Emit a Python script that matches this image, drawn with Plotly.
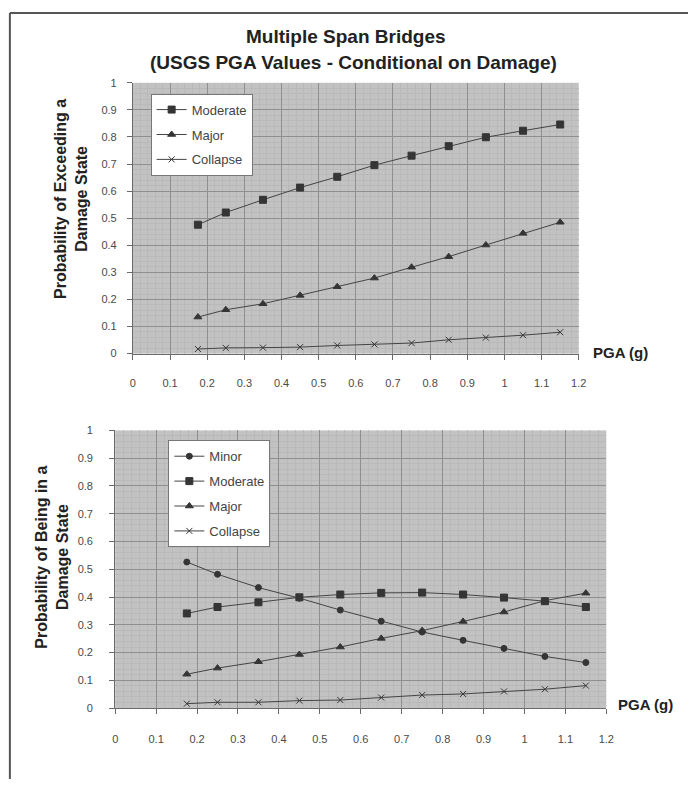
import plotly.graph_objects as go

W, H = 696, 785

pga = [0.175, 0.25, 0.35, 0.45, 0.55, 0.65, 0.75, 0.85, 0.95, 1.05, 1.15]

# Top chart: probability of exceeding a damage state
exc_moderate = [0.476, 0.521, 0.568, 0.613, 0.653, 0.696, 0.731, 0.766, 0.799, 0.823, 0.846]
exc_major = [0.135, 0.162, 0.184, 0.215, 0.247, 0.279, 0.319, 0.358, 0.401, 0.444, 0.485]
exc_collapse = [0.017, 0.021, 0.022, 0.024, 0.030, 0.034, 0.039, 0.051, 0.059, 0.068, 0.079]

# Bottom chart: probability of being in a damage state
in_minor = [0.526, 0.482, 0.434, 0.396, 0.353, 0.313, 0.274, 0.244, 0.215, 0.186, 0.164]
in_moderate = [0.341, 0.364, 0.381, 0.399, 0.409, 0.415, 0.416, 0.409, 0.398, 0.385, 0.364]
in_major = [0.122, 0.144, 0.167, 0.193, 0.220, 0.251, 0.279, 0.312, 0.346, 0.387, 0.414]
in_collapse = [0.016, 0.021, 0.021, 0.027, 0.029, 0.038, 0.047, 0.051, 0.060, 0.068, 0.081]

x_ticks = [0, 0.1, 0.2, 0.3, 0.4, 0.5, 0.6, 0.7, 0.8, 0.9, 1, 1.1, 1.2]
x_ticklabels = ["0", "0.1", "0.2", "0.3", "0.4", "0.5", "0.6", "0.7", "0.8", "0.9", "1", "1.1", "1.2"]
y_ticks = [0, 0.1, 0.2, 0.3, 0.4, 0.5, 0.6, 0.7, 0.8, 0.9, 1]
y_ticklabels = ["0", "0.1", "0.2", "0.3", "0.4", "0.5", "0.6", "0.7", "0.8", "0.9", "1"]

LINE = "#444444"
MARK = "#353535"
FONT = "Liberation Sans, Arial, sans-serif"


def px_x(p):
    return p / W


def px_y(p):
    return 1 - p / H


fig = go.Figure()

top_series = [
    ("Moderate", exc_moderate, "square", 7),
    ("Major", exc_major, "triangle-up", 7),
    ("Collapse", exc_collapse, "x-thin-open", 6),
]
for name, vals, sym, sz in top_series:
    fig.add_trace(go.Scatter(
        x=pga, y=vals, name=name, mode="lines+markers",
        line=dict(color=LINE, width=1),
        marker=dict(symbol=sym, size=sz, color=MARK, line=dict(color=MARK, width=1)),
        xaxis="x", yaxis="y", legend="legend", legendgroup="t" + name,
    ))

bot_series = [
    ("Minor", in_minor, "circle", 6),
    ("Moderate", in_moderate, "square", 7),
    ("Major", in_major, "triangle-up", 7),
    ("Collapse", in_collapse, "x-thin-open", 6),
]
for name, vals, sym, sz in bot_series:
    fig.add_trace(go.Scatter(
        x=pga, y=vals, name=name, mode="lines+markers",
        line=dict(color=LINE, width=1),
        marker=dict(symbol=sym, size=sz, color=MARK, line=dict(color=MARK, width=1)),
        xaxis="x2", yaxis="y2", legend="legend2", legendgroup="b" + name,
    ))

axis_common = dict(
    showgrid=True, gridcolor="#8f8f8f", gridwidth=1,
    zeroline=False, showline=True, linecolor="#6a6a6a", linewidth=1,
    ticks="outside", ticklen=5, tickcolor="#6a6a6a",
    tickfont=dict(family=FONT, size=11, color="#4a4a4a"),
    minor=dict(dtick=0.02, showgrid=True, gridcolor="#b9b9b9", gridwidth=1),
)

xa = dict(axis_common, range=[0, 1.2], tickvals=x_ticks, ticktext=x_ticklabels,
          ticklabelstandoff=14)
ya = dict(axis_common, range=[0, 1], tickvals=y_ticks, ticktext=y_ticklabels,
          ticklabelstandoff=8)

legend_common = dict(
    bgcolor="white", bordercolor="#777777", borderwidth=1,
    font=dict(family=FONT, size=13, color="#444444"),
    xanchor="left", yanchor="top", tracegroupgap=5, itemwidth=30,
)

fig.update_layout(
    width=W, height=H,
    margin=dict(l=0, r=0, t=0, b=0),
    paper_bgcolor="white",
    plot_bgcolor="#c2c2c2",
    showlegend=True,
    xaxis=dict(xa, domain=[px_x(132), px_x(585)], anchor="y"),
    yaxis=dict(ya, domain=[px_y(353), px_y(78)], anchor="x"),
    xaxis2=dict(xa, domain=[px_x(114), px_x(613)], anchor="y2", ticklabelstandoff=16),
    yaxis2=dict(ya, domain=[px_y(713), px_y(431)], anchor="x2", ticklabelstandoff=14),
    legend=dict(legend_common, x=px_x(150), y=px_y(89)),
    legend2=dict(legend_common, x=px_x(168), y=px_y(441)),
)

annotations = [
    dict(text="<b>Multiple Span Bridges</b>", x=px_x(348), y=px_y(31),
         font=dict(family=FONT, size=19, color="#222222")),
    dict(text="<b>(USGS PGA Values - Conditional on Damage)</b>", x=px_x(356), y=px_y(57),
         font=dict(family=FONT, size=19, color="#222222")),
    dict(text="<b>Probability of Exceeding a<br>Damage State</b>", x=px_x(69), y=px_y(196),
         textangle=-90, font=dict(family=FONT, size=16, color="#222222")),
    dict(text="<b>Probability of Being in a<br>Damage State</b>", x=px_x(50), y=px_y(560),
         textangle=-90, font=dict(family=FONT, size=16, color="#222222")),
    dict(text="<b>PGA (g)</b>", x=px_x(597), y=px_y(352), xanchor="left",
         font=dict(family=FONT, size=15, color="#222222")),
    dict(text="<b>PGA (g)</b>", x=px_x(623), y=px_y(709), xanchor="left",
         font=dict(family=FONT, size=15, color="#222222")),
]
for a in annotations:
    a.setdefault("xanchor", "center")
    a.update(xref="paper", yref="paper", yanchor="middle", showarrow=False)
fig.update_layout(annotations=annotations)

fig.update_layout(shapes=[
    dict(type="line", xref="paper", yref="paper", x0=px_x(7), x1=px_x(7), y0=0, y1=px_y(7),
         line=dict(color="#555555", width=2)),
    dict(type="line", xref="paper", yref="paper", x0=px_x(7), x1=1, y0=px_y(7), y1=px_y(7),
         line=dict(color="#555555", width=2)),
])

fig.write_html("out.html")
